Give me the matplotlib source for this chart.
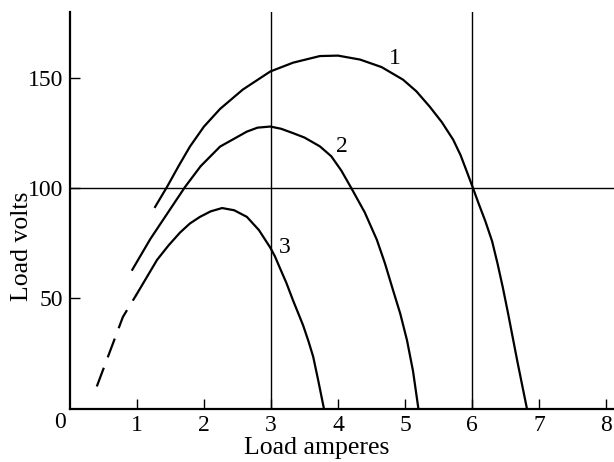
import matplotlib.pyplot as plt
import matplotlib as mpl

# load curves, read as (amperes, volts)
amps_1 = [1.27, 1.45, 1.62, 1.79, 2.0, 2.24, 2.58, 2.99, 3.33, 3.73, 4.0, 4.33, 4.65, 4.97, 5.17, 5.37,
          5.55, 5.72, 5.83, 5.93, 6.01, 6.1, 6.2, 6.3, 6.38, 6.46, 6.54, 6.61, 6.68, 6.75, 6.82]
volts_1 = [91.5, 100.7, 110, 118.9, 128, 136, 144.8, 153, 157, 160, 160.2, 158.4, 155, 149.3, 144, 137,
           130, 122, 115, 107, 100.5, 93, 85, 76, 66, 55, 43, 32, 21, 10.5, 0]

amps_2 = [0.93, 1.2, 1.52, 1.72, 1.95, 2.24, 2.64, 2.8, 2.99, 3.15, 3.33, 3.5, 3.73, 3.9, 4.05, 4.2,
          4.4, 4.58, 4.7, 4.82, 4.93, 5.03, 5.12, 5.2]
volts_2 = [63, 77, 91.6, 100.7, 110, 118.9, 125.7, 127.5, 128, 127, 125, 123, 119, 114.5, 108, 100,
           89, 76.6, 66, 53.9, 43, 31, 17, 0]

amps_3 = [0.99, 1.3, 1.47, 1.64, 1.79, 1.94, 2.1, 2.27, 2.45, 2.64, 2.82, 2.99, 3.06, 3.13, 3.23,
          3.33, 3.41, 3.48, 3.56, 3.63, 3.7, 3.79]
volts_3 = [51.6, 67.5, 74, 79.8, 84, 87, 89.5, 91, 90, 87, 81, 73, 69, 64, 57,
           49, 43, 37.7, 30.5, 23.5, 13.5, 0]

# extrapolated start of curve 3
amps_3x = [0.4, 0.79, 0.99]
volts_3x = [10, 41.6, 51.6]

xticks = [1, 2, 3, 4, 5, 6, 7, 8]
yticks = [50, 100, 150]

mpl.rcParams["font.family"] = ["Liberation Serif", "DejaVu Serif"]

fig = plt.figure(figsize=(6.14, 4.62), dpi=100)
ax = fig.add_axes([70 / 614, 1 - 408.5 / 462, 544 / 614, 396.5 / 462])

ax.set_xlim(0, 8.12)
ax.set_ylim(0, 180)

for s in ["top", "right"]:
    ax.spines[s].set_visible(False)
ax.spines["left"].set_linewidth(1.6)
ax.spines["bottom"].set_linewidth(1.6)

ax.axvline(3, color="black", lw=1.0)
ax.axvline(6, color="black", lw=1.0)
ax.axhline(100, color="black", lw=1.0)

ax.plot(amps_1, volts_1, color="black", lw=1.6)
ax.plot(amps_2, volts_2, color="black", lw=1.6)
ax.plot(amps_3, volts_3, color="black", lw=1.6)
ax.plot(amps_3x, volts_3x, color="black", lw=1.6, dashes=(9, 5))

ax.text(4.85, 159, "1", fontsize=17, ha="center", va="center")
ax.text(4.06, 119, "2", fontsize=17, ha="center", va="center")
ax.text(3.21, 73, "3", fontsize=17, ha="center", va="center")

ax.set_xticks(xticks)
ax.set_yticks(yticks)
ax.tick_params(direction="in", length=7, width=1, labelsize=17, pad=5)

ax.text(-0.15, -6.5, "0", fontsize=17, ha="center", va="center", clip_on=False)
ax.text(0.453, -0.1, "Load amperes", fontsize=18.5, ha="center", va="center", transform=ax.transAxes)
ax.text(-0.088, 0.41, "Load volts", fontsize=18.5, ha="center", va="center", rotation=90, transform=ax.transAxes)

plt.savefig("out.png", dpi=100)
